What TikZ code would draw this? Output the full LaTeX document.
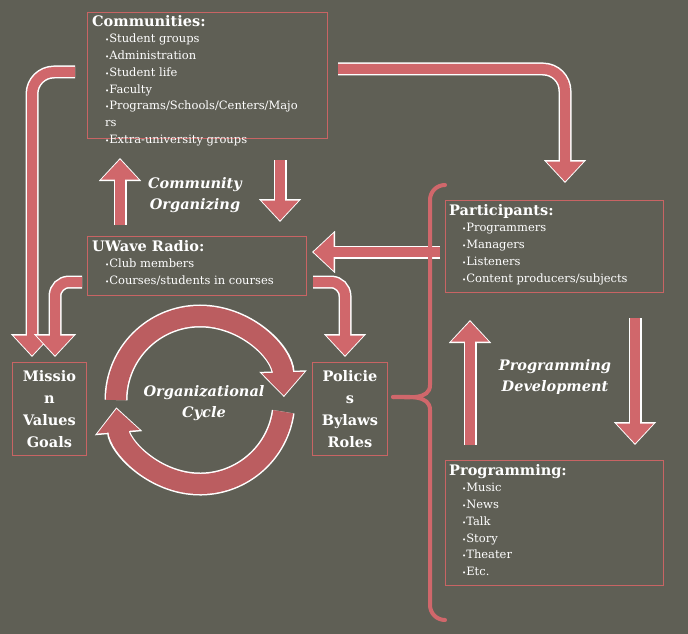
\documentclass[tikz,border=0pt]{standalone}
\usepackage{fontspec}
\setmainfont{DejaVu Serif}
\usetikzlibrary{positioning,arrows.meta}
\definecolor{bgolive}{HTML}{5F5F55}
\definecolor{barred}{HTML}{D0676B}
\definecolor{edgered}{HTML}{C86464}
\tikzset{
  box/.style={draw=edgered, line width=0.8pt, anchor=north west},
  txt/.style={anchor=north west, text=white, align=left, font=\fontsize{11.5}{16.7}\selectfont, inner sep=0pt},
  cyc/.style={text=white, align=center, font=\fontsize{14.5}{21}\selectfont\bfseries\itshape},
  barrim/.style={white, line width=13pt, -{Triangle[length=23pt,width=41pt]}},
  bar/.style={barred, line width=10pt, shorten >=1.5pt, -{Triangle[length=20pt,width=36pt]}},
  ringrim/.style={white, line width=23pt, -{Triangle[length=26pt,width=46pt]}},
  ring/.style={barred!90!black, line width=20pt, shorten >=1.5pt, -{Triangle[length=23pt,width=41pt]}},
}
\newcommand\fatarrow[1]{\draw[barrim] #1; \draw[bar] #1;}
\newcommand\itm{\hspace*{13pt}{\scriptsize\textbullet}}
\newcommand\hd[1]{{\fontsize{14.5}{17}\selectfont\bfseries #1}}
\begin{document}
\begin{tikzpicture}[x=1pt, y=-1pt]
    % Background
    \fill[bgolive] (0,0) rectangle (688,634);
    \useasboundingbox (0,0) rectangle (688,634);

    % Boxes
    \node[box, minimum width=240pt, minimum height=126pt] (comm) at (87,12) {};
    \node[txt] (commtxt) at (92,15) {\hd{Communities:}\\
        \itm Student groups\\ \itm Administration\\
        \itm Student life\\ \itm Faculty\\
        \itm Programs/Schools/Centers/Majo\\ \hspace*{13pt}rs\\
        \itm Extra-university groups};
    \node[box, minimum width=219pt, minimum height=59pt] (uwave) at (87,236) {};
    \node[txt] (uwavetxt) at (92,240) {\hd{UWave Radio:}\\
        \itm Club members\\ \itm Courses/students in courses};
    \node[box, minimum width=218pt, minimum height=92pt] (part) at (445,200) {};
    \node[txt] (parttxt) at (449,204) {\hd{Participants:}\\
        \itm Programmers\\ \itm Managers\\
        \itm Listeners\\ \itm Content producers/subjects};
    \node[box, minimum width=218pt, minimum height=125pt] (prog) at (445,460) {};
    \node[txt] (progtxt) at (449,464) {\hd{Programming:}\\
        \itm Music\\ \itm News\\ \itm Talk\\
        \itm Story\\ \itm Theater\\ \itm Etc.};
    \node[box, minimum width=74pt, minimum height=93pt] (mission) at (12,362) {};
    \node[text=white, align=center, font=\fontsize{14.5}{22}\selectfont\bfseries] (missiontxt) at (mission.center)
        {Missio\\n\\Values\\Goals};
    \node[box, minimum width=75pt, minimum height=93pt] (policy) at (312,362) {};
    \node[text=white, align=center, font=\fontsize{14.5}{22}\selectfont\bfseries] (policytxt) at (policy.center)
        {Policie\\s\\Bylaws\\Roles};

    % Labels
    \node[cyc] (orgcom) at (195,195) {Community\\Organizing};
    \node[cyc] (orgcyc) at (204,403) {Organizational\\Cycle};
    \node[cyc] (orgprog) at (555,377) {Programming\\Development};

    % Bent arrows
    \fatarrow{[rounded corners=22pt] (338,69) -- (565,69) -- (565,183)}
    \fatarrow{[rounded corners=22pt] (75,72) -- (32,72) -- (32,357)}
    \fatarrow{[rounded corners=14pt] (82,282) -- (55,282) -- (55,357)}
    \fatarrow{[rounded corners=14pt] (313,282) -- (345,282) -- (345,357)}

    % Straight arrows
    \fatarrow{(120,225) -- (120,158)}
    \fatarrow{(280,160) -- (280,222)}
    \fatarrow{(440,252) -- (312,252)}
    \fatarrow{(470,445) -- (470,320)}
    \fatarrow{(635,318) -- (635,445)}

    % Cycle
    \draw[ringrim] (116,400) arc[start angle=180, end angle=358, radius=84];
    \draw[ring] (116,400) arc[start angle=180, end angle=358, radius=84];
    \draw[ringrim] (283.2,411.7) arc[start angle=8, end angle=175, radius=84];
    \draw[ring] (283.2,411.7) arc[start angle=8, end angle=175, radius=84];

    % Brace
    \draw[barred, line width=4pt, line cap=round] (445,185) to[out=180, in=90] (430,200)
        -- (430,385) to[out=-90, in=0] (393,397);
    \draw[barred, line width=4pt, line cap=round] (393,397)
        to[out=0, in=90] (430,410) -- (430,605) to[out=-90, in=180] (445,620);
\end{tikzpicture}
\end{document}
